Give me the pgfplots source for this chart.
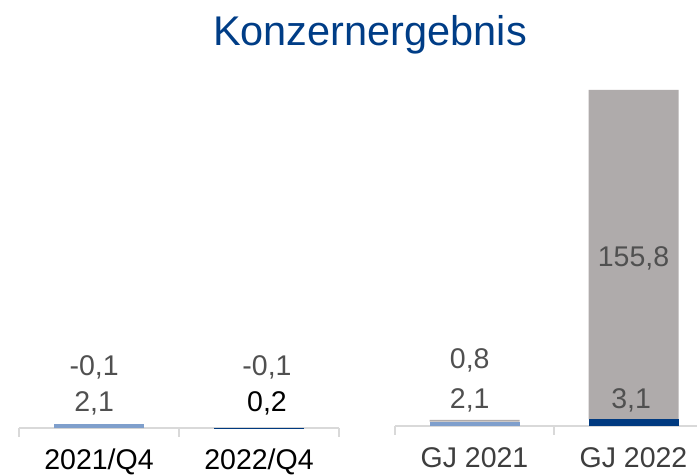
\documentclass[border=0pt]{standalone}
\usepackage{pgfplots}
\pgfplotsset{compat=1.18}
\usepackage{fontspec}
\setmainfont{Liberation Sans}

\definecolor{hellblau}{HTML}{7F9FCC}
\definecolor{dunkelblau}{HTML}{003A80}
\definecolor{grau}{HTML}{AFABAB}
\definecolor{wert}{HTML}{505050}
\definecolor{achse}{HTML}{D9D9D9}
\definecolor{titel}{HTML}{003D86}

\newcommand\lbl{\fontsize{28.5}{30}\selectfont}

\pgfplotsset{
  kg/.style={
    scale only axis, height=338.4pt,
    ymin=0, ymax=160, xmin=-0.5, xmax=1.5,
    axis x line*=bottom, axis y line=none,
    x axis line style={achse, line width=1.5pt, -},
    ybar stacked, bar width=90pt,
    xtick={0,1}, major tick length=0pt, tick align=outside,
    extra x ticks={-0.5,0.5,1.5}, extra x tick labels={},
    extra x tick style={major tick length=9pt,
      tick style={achse, line width=1.5pt}},
    xticklabel style={anchor=base, yshift=-42pt, font=\lbl},
    anchor=south west, clip=false,
  },
}

\begin{document}
\begin{tikzpicture}
\clip (0,0) rectangle (697pt,476pt);

\node[anchor=base, text=titel, font=\fontsize{41.5}{44}\selectfont]
  at (370pt,430pt) {Konzernergebnis};

% Quartale
\begin{axis}[kg, at={(19pt,48pt)}, width=320pt,
  xticklabels={2021/Q4,2022/Q4}]
\addplot[fill=hellblau, draw=none] coordinates {(0,2.1) (1,0)};
\addplot[fill=dunkelblau, draw=none] coordinates {(0,0) (1,0.2)};
\addplot[fill=grau, draw=none] coordinates {(0,-0.1) (1,-0.1)};
\coordinate (q1a) at (axis cs:-0.03,24.6);
\coordinate (q1b) at (axis cs:-0.03,8.0);
\coordinate (q2a) at (axis cs:1.05,24.6);
\coordinate (q2b) at (axis cs:1.05,8.0);
\end{axis}

% Geschaeftsjahre
\begin{axis}[kg, at={(395pt,50pt)}, width=318pt,
  xticklabels={GJ 2021,GJ 2022},
  xticklabel style={text=wert!110}]
\addplot[fill=hellblau, draw=none] coordinates {(0,2.1) (1,0)};
\addplot[fill=dunkelblau, draw=none] coordinates {(0,0) (1,3.1)};
\addplot[fill=grau, draw=none] coordinates {(0,0.8) (1,155.8)};
\coordinate (g1a) at (axis cs:-0.03,27.4);
\coordinate (g1b) at (axis cs:-0.03,8.5);
\coordinate (g2b) at (axis cs:0.985,8.5);
\coordinate (g2a) at (axis cs:1.0,75.2);
\end{axis}

\begin{scope}[every node/.style={anchor=base, text=wert, font=\lbl}]
\node at (q1a) {-0,1};
\node at (q1b) {2,1};
\node at (q2a) {-0,1};
\node[text=black] at (q2b) {0,2};
\node at (g1a) {0,8};
\node at (g1b) {2,1};
\node at (g2b) {3,1};
\node at (g2a) {155,8};
\end{scope}
\end{tikzpicture}
\end{document}
